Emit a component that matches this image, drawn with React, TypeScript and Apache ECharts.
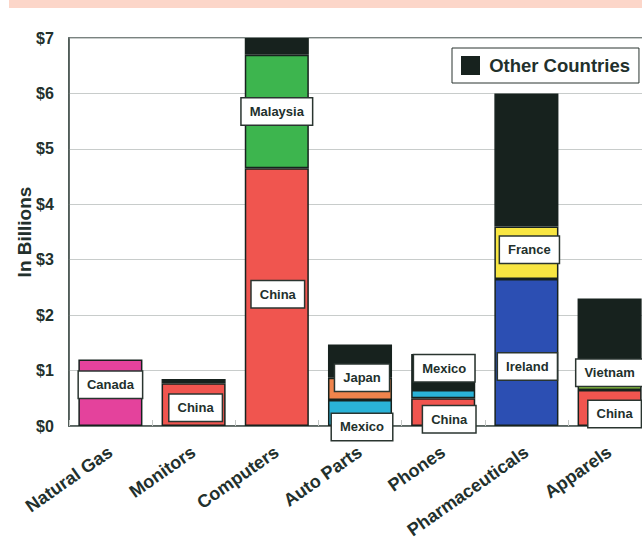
import React, { useEffect, useRef } from "react";
import * as echarts from "echarts";

const categories = ["Natural Gas", "Monitors", "Computers", "Auto Parts", "Phones", "Pharmaceuticals", "Apparels"];
// values in billions of dollars, per category (null = no segment)
const canada = [1.2, null, null, null, null, null, null];
const china = [null, 0.77, 4.65, null, 0.5, null, 0.65];
const mexico = [null, null, null, 0.47, 0.15, null, null];
const ireland = [null, null, null, null, null, 2.65, null];
const malaysia = [null, null, 2.05, null, null, null, null];
const japan = [null, null, null, 0.4, null, null, null];
const france = [null, null, null, null, null, 0.95, null];
const vietnam = [null, null, null, null, null, null, 0.3];
const other = [null, 0.08, 0.3, 0.6, 0.65, 2.4, 1.35];
const yTicks = [0, 1, 2, 3, 4, 5, 6, 7];

const seriesDefs: { name: string; data: (number | null)[]; color: string }[] = [
  { name: "Canada", data: canada, color: "#e4429c" },
  { name: "China", data: china, color: "#f0554f" },
  { name: "Mexico", data: mexico, color: "#2ab3d8" },
  { name: "Ireland", data: ireland, color: "#2c4fb3" },
  { name: "Malaysia", data: malaysia, color: "#3db54e" },
  { name: "Japan", data: japan, color: "#f0844c" },
  { name: "France", data: france, color: "#f8e642" },
  { name: "Vietnam", data: vietnam, color: "#8dc63f" },
  { name: "Other Countries", data: other, color: "#17221e" },
];

// label placement offsets (layout only), keyed "series|category"
const labelOffsets: Record<string, [number, number]> = {
  "Canada|Natural Gas": [0, -8],
  "China|Monitors": [2, 3],
  "Malaysia|Computers": [0, 0],
  "China|Computers": [1, -3],
  "Japan|Auto Parts": [2, -11],
  "Mexico|Auto Parts": [2, 14],
  "Mexico|Phones": [1, -26],
  "China|Phones": [6, 7],
  "France|Pharmaceuticals": [3, -3],
  "Ireland|Pharmaceuticals": [1, 14],
  "Vietnam|Apparels": [0, -9],
  "China|Apparels": [5, 6],
};

const FONT = "'Liberation Sans', Arial, sans-serif";
const TEXT = "#22302c";

export default function App() {
  const ref = useRef<HTMLDivElement>(null);
  useEffect(() => {
    document.body.style.margin = "0";
    const chart = echarts.init(ref.current!, null, { renderer: "svg" });
    const series = seriesDefs.map((s) => ({
      name: s.name,
      type: "bar",
      stack: "total",
      barCategoryGap: "23%",
      itemStyle: { color: s.color, borderColor: "#17221e", borderWidth: 1.5 },
      data: s.data.map((v, i) => {
        const key = s.name + "|" + categories[i];
        const off = labelOffsets[key];
        if (v === null) return null;
        if (s.name === "Other Countries" || !off) return { value: v, label: { show: false } };
        return {
          value: v,
          label: {
            show: true,
            position: "inside",
            offset: off,
            formatter: s.name,
            backgroundColor: "#ffffff",
            borderColor: "#2a3530",
            borderWidth: 1.5,
            padding: [7, 8, 6, 8],
            color: TEXT,
            fontWeight: "bold",
            fontSize: 13,
            fontFamily: FONT,
          },
        };
      }),
    }));
    chart.setOption({
      animation: false,
      backgroundColor: "#ffffff",
      graphic: [
        { type: "rect", shape: { x: 9, y: 0, width: 640, height: 8 }, style: { fill: "#fcd6c9" }, z: 100 },
      ],
      legend: {
        data: ["Other Countries"],
        left: 452,
        top: 48,
        orient: "horizontal",
        itemWidth: 17,
        itemHeight: 17,
        icon: "rect",
        backgroundColor: "#ffffff",
        borderColor: "#2a3530",
        borderWidth: 1,
        borderRadius: 0,
        padding: [8, 9, 8, 9],
        formatter: (n: string) => " " + n,
        textStyle: { fontSize: 18.5, fontWeight: "bold", color: TEXT, fontFamily: FONT },
      },
      grid: {
        show: true,
        left: 68.8,
        top: 38,
        width: 582.4,
        height: 388,
        outerBoundsMode: "none",
        containLabel: false,
        borderColor: "#4f5b57",
        borderWidth: 1.5,
        backgroundColor: "transparent",
      },
      xAxis: {
        type: "category",
        data: categories,
        axisLine: { show: true, lineStyle: { color: "#4f5b57", width: 1.5 } },
        axisTick: { show: true, inside: true, length: 6, lineStyle: { color: "#c4c8c6" } },
        axisLabel: {
          interval: 0,
          rotate: 35,
          margin: 24,
          fontSize: 18,
          fontWeight: "bold",
          color: TEXT,
          fontFamily: FONT,
        },
      },
      yAxis: {
        type: "value",
        min: 0,
        max: 7,
        interval: 1,
        name: "In Billions",
        nameLocation: "middle",
        nameGap: 35,
        nameMoveOverlap: false,
        nameTextStyle: { fontSize: 19, fontWeight: "bold", color: TEXT, fontFamily: FONT },
        axisLine: { show: true, lineStyle: { color: "#4f5b57", width: 1.5 } },
        axisTick: { show: false },
        splitLine: { show: true, lineStyle: { color: "#c8cccb", width: 1 } },
        axisLabel: {
          margin: 15,
          fontSize: 16,
          fontWeight: "bold",
          color: TEXT,
          fontFamily: FONT,
          formatter: (v: number) => (yTicks.includes(v) ? "$" + v : ""),
        },
      },
      series,
    });
    return () => chart.dispose();
  }, []);
  return <div ref={ref} style={{ width: 642, height: 540 }} />;
}
